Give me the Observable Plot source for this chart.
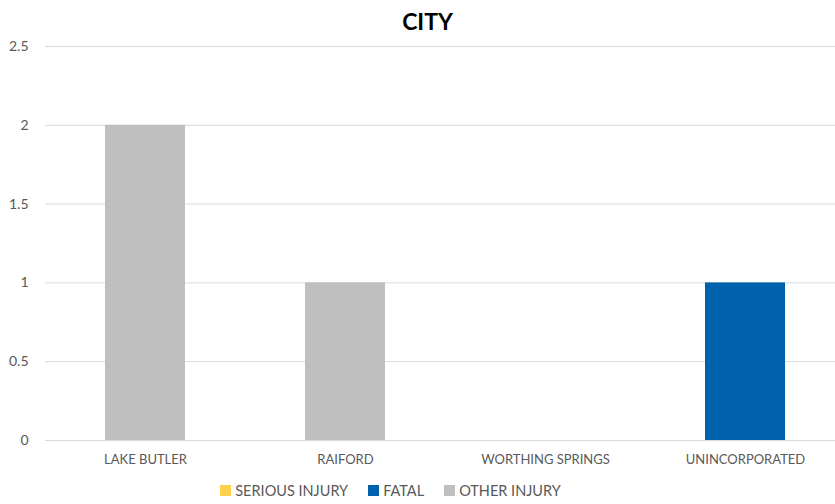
<!DOCTYPE html>
<html>
<head>
<meta charset="utf-8">
<script src="https://cdn.jsdelivr.net/npm/d3@7"></script>
<script src="https://cdn.jsdelivr.net/npm/@observablehq/plot@0.6"></script>
<style>
  body { margin: 0; background: #fff; font-family: Lato, "Open Sans", sans-serif; }
  #wrap { width: 835px; height: 504px; position: relative; overflow: hidden; }
  #title { height: 36px; line-height: 42px; text-align: center; font-size: 23px; font-weight: bold; color: #000; padding-left: 20px; box-sizing: border-box; }
  #legend { display: flex; justify-content: center; align-items: center; gap: 20px; font-size: 14.5px; color: #595959; height: 28px; padding-right: 54px; }
  .item { display: flex; align-items: center; gap: 4px; }
  .sw { width: 11px; height: 11px; display: inline-block; }
  svg text { font-family: Lato, "Open Sans", sans-serif; }
</style>
</head>
<body>
<div id="wrap">
  <div id="title">CITY</div>
  <div id="chart"></div>
  <div id="legend"></div>
</div>
<script>
const categories = ["LAKE BUTLER", "RAIFORD", "WORTHING SPRINGS", "UNINCORPORATED"];
const series = ["SERIOUS INJURY", "FATAL", "OTHER INJURY"];
const colors = ["#FFD04B", "#0062AC", "#BFBFBF"];
const seriousInjury = [0, 0, 0, 0];
const fatal = [0, 0, 0, 1];
const otherInjury = [2, 1, 0, 0];
const yTicks = [0, 0.5, 1, 1.5, 2, 2.5];

const values = [seriousInjury, fatal, otherInjury];
const data = [];
series.forEach((s, i) => categories.forEach((c, j) => data.push({category: c, series: s, value: values[i][j]})));

const plot = Plot.plot({
  width: 835,
  height: 440,
  marginTop: 10,
  marginBottom: 36,
  marginLeft: 45,
  marginRight: 0,
  style: { fontSize: "13px", color: "#595959", background: "#fff" },
  x: { domain: categories, range: [45, 845], paddingInner: 0.6, paddingOuter: 0.3, label: null, tickSize: 0, tickPadding: 14 },
  y: { domain: [0, 2.5], ticks: yTicks, label: null, tickSize: 0, tickPadding: 17, tickFormat: d => String(d) },
  color: { domain: series, range: colors },
  marks: [
    Plot.gridY(yTicks, { stroke: "#d9d9d9", strokeOpacity: 1, strokeWidth: 1 }),
    Plot.barY(data, { x: "category", y: "value", fill: "series", order: series }),
    Plot.axisY({ ticks: yTicks, tickSize: 0, tickPadding: 17, fontSize: 14, tickFormat: d => String(d), label: null }),
    Plot.axisX({ tickSize: 0, tickPadding: 14, fontSize: 13, label: null })
  ]
});
document.getElementById("chart").appendChild(plot);

const legend = document.getElementById("legend");
series.forEach((s, i) => {
  const item = document.createElement("div");
  item.className = "item";
  const sw = document.createElement("span");
  sw.className = "sw";
  sw.style.background = colors[i];
  const t = document.createElement("span");
  t.textContent = s;
  item.appendChild(sw);
  item.appendChild(t);
  legend.appendChild(item);
});
</script>
</body>
</html>
